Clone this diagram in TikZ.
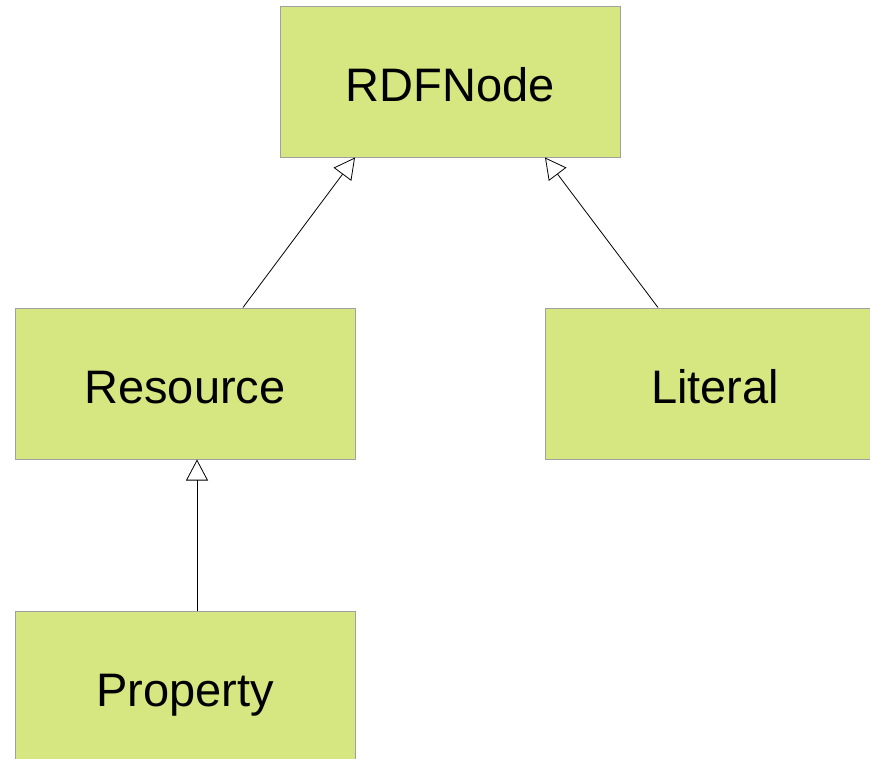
\documentclass[tikz,border=0pt]{standalone}
\usepackage{fontspec}
\setmainfont{Liberation Sans}
\usetikzlibrary{arrows.meta}
\definecolor{boxfill}{RGB}{214,230,128}
\definecolor{boxline}{RGB}{160,160,160}
\begin{document}
\begin{tikzpicture}[x=1pt,y=-1pt,
  cls/.style={draw=boxline,fill=boxfill,line width=1pt,minimum width=340pt,minimum height=151pt,inner sep=0pt,text height=40pt,text depth=1pt,font=\fontsize{47}{56}\selectfont},
  gen/.style={draw=black,line width=0.8pt,-{Triangle[open,length=21pt,width=22pt,fill=white]}}]
\useasboundingbox (0,0) rectangle (870,758);
\clip (0,0) rectangle (870,758);
\node[cls] (rdf) at (450,81.5) {RDFNode};
\node[cls] (res) at (185,383.5) {Resource};
\node[cls] (lit) at (715,383.5) {Literal};
\node[cls] (prop) at (185,686.5) {Property};
\draw[gen] ([xshift=58pt]res.north) -- ([xshift=-95pt]rdf.south);
\draw[gen] ([xshift=-57pt]lit.north) -- ([xshift=95pt]rdf.south);
\draw[gen] ([xshift=12pt]prop.north) -- ([xshift=12pt]res.south);
\end{tikzpicture}
\end{document}
